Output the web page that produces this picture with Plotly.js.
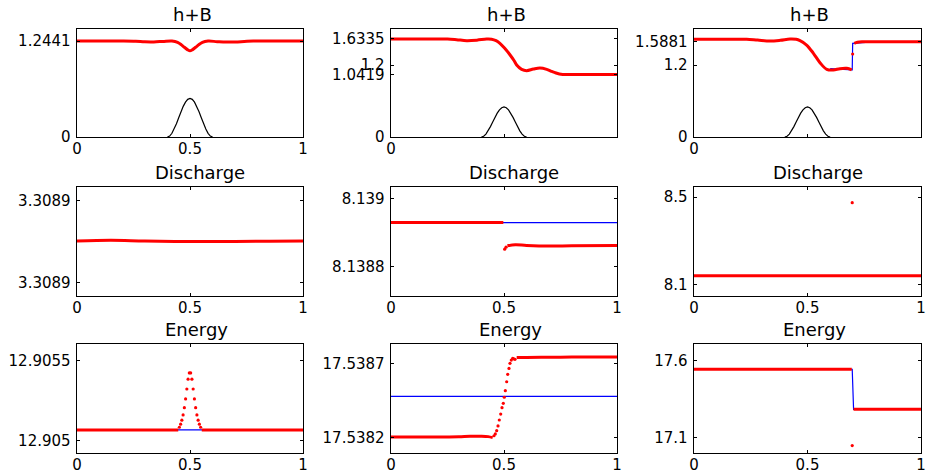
<!DOCTYPE html>
<html>
<head>
<meta charset="utf-8">
<script src="https://cdn.plot.ly/plotly-3.0.1.min.js"></script>
<style>html,body{margin:0;padding:0;background:#fff}#plot{width:929px;height:475px}</style>
</head>
<body>
<div id="plot"></div>
<script>
// ---------------- data ----------------
const titles = ["h+B", "h+B", "h+B", "Discharge", "Discharge", "Discharge", "Energy", "Energy", "Energy"];

// bottom topography (shared by the three h+B panels)
const xB = [0.4, 0.41, 0.42, 0.43, 0.44, 0.45, 0.46, 0.47, 0.48, 0.49, 0.5, 0.51, 0.52, 0.53, 0.54, 0.55, 0.56, 0.57, 0.58, 0.59, 0.6];
const B  = [0, 0.012, 0.048, 0.103, 0.173, 0.25, 0.327, 0.397, 0.452, 0.488, 0.5, 0.488, 0.452, 0.397, 0.327, 0.25, 0.173, 0.103, 0.048, 0.012, 0];

// h+B, column 1
const x_hb1 = [0, 0.1, 0.2, 0.26, 0.3, 0.34, 0.38, 0.42, 0.445, 0.46, 0.475, 0.49, 0.5, 0.51, 0.525, 0.54, 0.555, 0.58, 0.62, 0.66, 0.7, 0.74, 0.78, 0.85, 1];
const hb1   = [1.2441, 1.2441, 1.2441, 1.241, 1.234, 1.233, 1.239, 1.245, 1.228, 1.198, 1.163, 1.13, 1.118, 1.13, 1.163, 1.198, 1.228, 1.243, 1.236, 1.231, 1.232, 1.238, 1.2441, 1.2441, 1.2441];

// h+B, column 2
const x_hb2 = [0, 0.1, 0.2, 0.25, 0.29, 0.335, 0.38, 0.423, 0.445, 0.465, 0.482, 0.505, 0.527, 0.545, 0.556, 0.578, 0.6, 0.63, 0.659, 0.689, 0.71, 0.726, 0.745, 0.76, 0.8, 0.9, 1];
const hb2   = [1.6335, 1.6335, 1.6335, 1.633, 1.622, 1.606, 1.614, 1.633, 1.63, 1.605, 1.561, 1.47, 1.367, 1.27, 1.2, 1.128, 1.106, 1.133, 1.15, 1.128, 1.095, 1.072, 1.05, 1.0419, 1.0419, 1.0419, 1.0419];

// h+B, column 3 (left of shock, shock cell, right of shock, reference)
const x_hb3L = [0, 0.1, 0.2, 0.232, 0.28, 0.335, 0.38, 0.423, 0.45, 0.467, 0.496, 0.526, 0.555, 0.585, 0.614, 0.643, 0.673, 0.695];
const hb3L   = [1.63, 1.63, 1.63, 1.628, 1.615, 1.6, 1.612, 1.633, 1.628, 1.605, 1.533, 1.395, 1.239, 1.128, 1.117, 1.139, 1.144, 1.117];
const x_hb3D = [0.699];
const hb3D   = [1.383];
const x_hb3R = [0.706, 0.72, 0.74, 0.8, 0.9, 1];
const hb3R   = [1.561, 1.578, 1.586, 1.5881, 1.5881, 1.5881];
const x_hb3ref = [0.6, 0.697, 0.699, 0.8];
const hb3ref   = [1.14, 1.117, 1.561, 1.5881];

// Discharge, column 1
const x_q1 = [0, 0.15, 0.3, 0.5, 0.7, 0.85, 1];
const q1   = [3.3089005, 3.3089012, 3.3089005, 3.3089, 3.3089, 3.3089003, 3.3089005];

// Discharge, column 2
const x_q2L = [0, 0.497];
const q2L   = [8.138929, 8.138929];
const x_q2D = [0.503, 0.509];
const q2D   = [8.138851, 8.138857];
const x_q2R = [0.515, 0.55, 0.6, 0.7, 0.8, 1];
const q2R   = [8.138861, 8.138864, 8.138862, 8.13886, 8.138861, 8.138862];
const x_q2ref = [0, 1];
const q2ref   = [8.138929, 8.138929];

// Discharge, column 3
const x_q3 = [0, 1];
const q3   = [8.1389, 8.1389];
const x_q3D = [0.697];
const q3D   = [8.475];

// Energy, column 1
const x_e1L = [0, 0.2, 0.4, 0.448];
const e1L   = [12.905067, 12.905067, 12.905067, 12.905067];
const x_e1D = [0.453, 0.4585, 0.464, 0.4695, 0.475, 0.4805, 0.486, 0.4915, 0.497, 0.503, 0.5085, 0.514, 0.5195, 0.525, 0.5305, 0.536, 0.5415, 0.547];
const e1D   = [12.905084, 12.905103, 12.905128, 12.905161, 12.905206, 12.905261, 12.905323, 12.905384, 12.905423, 12.905423, 12.905384, 12.905323, 12.905261, 12.905206, 12.905161, 12.905128, 12.905103, 12.905084];
const x_e1R = [0.552, 0.7, 1];
const e1R   = [12.905067, 12.905067, 12.905067];
const x_e1ref = [0, 1];
const e1ref   = [12.905067, 12.905067];

// Energy, column 2
const x_e2L = [0, 0.1, 0.2, 0.3, 0.35, 0.4, 0.43, 0.45];
const e2L   = [17.538205, 17.538205, 17.538205, 17.538207, 17.53821, 17.53821, 17.538207, 17.5382];
const x_e2D = [0.4558, 0.4615, 0.4677, 0.4735, 0.4792, 0.4854, 0.4912, 0.4969, 0.5013, 0.5058, 0.5119, 0.5164, 0.5221, 0.5265, 0.5323, 0.5385, 0.5435, 0.5487];
const e2D   = [17.538213, 17.538225, 17.538247, 17.538279, 17.538319, 17.538359, 17.538402, 17.538431, 17.538472, 17.538516, 17.538576, 17.538626, 17.538666, 17.5387, 17.538722, 17.538734, 17.53873, 17.538727];
const x_e2R = [0.556, 0.6, 0.7, 0.8, 0.9, 1];
const e2R   = [17.53874, 17.53874, 17.538741, 17.538742, 17.538742, 17.538743];
const x_e2ref = [0, 1];
const e2ref   = [17.538478, 17.538478];

// Energy, column 3
const x_e3L = [0, 0.695];
const e3L   = [17.544, 17.544];
const x_e3D = [0.697];
const e3D   = [17.048];
const x_e3R = [0.703, 1];
const e3R   = [17.284, 17.284];
const x_e3ref = [0, 0.697, 0.703, 1];
const e3ref   = [17.544, 17.544, 17.284, 17.284];

// axis ticks / ranges
const yTickVals = [[0, 1.2441], [0, 1.0419, 1.2, 1.6335], [0, 1.2, 1.5881],
                   [3.30886, 3.30894], [8.1388, 8.139], [8.1, 8.5],
                   [12.905, 12.9055], [17.5382, 17.5387], [17.1, 17.6]];
const yTickText = [["0", "1.2441"], ["0", "1.0419", "1.2", "1.6335"], ["0", "1.2", "1.5881"],
                   ["3.3089", "3.3089"], ["8.1388", "8.139"], ["8.1", "8.5"],
                   ["12.905", "12.9055"], ["17.5382", "17.5387"], ["17.1", "17.6"]];
const yRanges = [[0, 1.4], [0, 1.8], [0, 1.8],
                 [3.308847, 3.308953], [8.138714, 8.139033], [8.046, 8.547],
                 [12.904923, 12.905604], [17.538097, 17.53883], [17.0, 17.708]];
const xTickVals = [0, 0.5, 1];
const xTickFull = ["0", "0.5", "1"];
const xTickZero = ["0", "", ""];

// ---------------- layout ----------------
const W = 929, H = 475;
const colPx = [[77, 303], [391, 617], [694, 921]];
const rowPx = [[29, 137], [187, 296], [344, 453]];
const titleShift = [2, 10, 6.5];
const FONT = "DejaVu Sans";
const RED = "#ff0000", BLUE = "#0000ff";

const layout = {
  width: W, height: H,
  margin: {l: 0, r: 0, t: 0, b: 0},
  paper_bgcolor: "#fff", plot_bgcolor: "#fff",
  showlegend: false,
  font: {family: FONT, size: 15, color: "#000"},
  annotations: []
};

for (let k = 0; k < 9; k++) {
  const r = Math.floor(k / 3), c = k % 3;
  const sx = k === 0 ? "" : String(k + 1);
  const axCommon = {
    showline: true, linecolor: "#000", linewidth: 1.4, mirror: "ticks",
    ticks: "inside", ticklen: 3, tickwidth: 1, tickcolor: "#000",
    showgrid: false, zeroline: false, fixedrange: true,
    tickfont: {family: FONT, size: 15, color: "#000"}
  };
  layout["xaxis" + sx] = Object.assign({}, axCommon, {
    domain: [colPx[c][0] / W, colPx[c][1] / W],
    anchor: "y" + sx, range: [0, 1],
    tickmode: "array", tickvals: xTickVals,
    ticktext: (r === 0 && c > 0) ? xTickZero : xTickFull,
    ticklabelstandoff: -2
  });
  layout["yaxis" + sx] = Object.assign({}, axCommon, {
    domain: [1 - rowPx[r][1] / H, 1 - rowPx[r][0] / H],
    anchor: "x" + sx, range: yRanges[k],
    tickmode: "array", tickvals: yTickVals[k], ticktext: yTickText[k],
    ticklabelstandoff: 2
  });
  layout.annotations.push({
    text: titles[k], showarrow: false,
    xref: "paper", yref: "paper",
    x: (colPx[c][0] + colPx[c][1]) / 2 / W,
    y: 1 - rowPx[r][0] / H,
    xanchor: "center", yanchor: "bottom", yshift: 2, xshift: titleShift[r],
    font: {family: FONT, size: 18, color: "#000"}
  });
}

// ---------------- traces ----------------
const traces = [];
function ax(k) { return k === 0 ? ["x", "y"] : ["x" + (k + 1), "y" + (k + 1)]; }
function line(k, x, y, color, width, shape) {
  const a = ax(k);
  traces.push({type: "scatter", mode: "lines", x: x, y: y, xaxis: a[0], yaxis: a[1],
    line: {color: color, width: width, shape: shape || "linear"}, hoverinfo: "skip"});
}
function dots(k, x, y) {
  const a = ax(k);
  traces.push({type: "scatter", mode: "markers", x: x, y: y, xaxis: a[0], yaxis: a[1],
    marker: {color: RED, size: 3.2, line: {width: 0}}, hoverinfo: "skip"});
}

// row 1: h+B
line(0, xB, B, "#000", 1.2);
line(0, x_hb1, hb1, RED, 3, "spline");
line(1, xB, B, "#000", 1.2);
line(1, x_hb2, hb2, RED, 3, "spline");
line(2, xB, B, "#000", 1.2);
line(2, x_hb3ref, hb3ref, BLUE, 1.2);
line(2, x_hb3L, hb3L, RED, 3, "spline");
line(2, x_hb3R, hb3R, RED, 3, "spline");
dots(2, x_hb3D, hb3D);

// row 2: Discharge
line(3, x_q1, q1, RED, 3, "spline");
line(4, x_q2ref, q2ref, BLUE, 1.2);
line(4, x_q2L, q2L, RED, 3);
dots(4, x_q2D, q2D);
line(4, x_q2R, q2R, RED, 3, "spline");
line(5, x_q3, q3, RED, 3);
dots(5, x_q3D, q3D);

// row 3: Energy
line(6, x_e1ref, e1ref, BLUE, 1.2);
line(6, x_e1L, e1L, RED, 3);
dots(6, x_e1D, e1D);
line(6, x_e1R, e1R, RED, 3);
line(7, x_e2ref, e2ref, BLUE, 1.2);
line(7, x_e2L, e2L, RED, 3, "spline");
dots(7, x_e2D, e2D);
line(7, x_e2R, e2R, RED, 3, "spline");
line(8, x_e3ref, e3ref, BLUE, 1.2);
line(8, x_e3L, e3L, RED, 3);
dots(8, x_e3D, e3D);
line(8, x_e3R, e3R, RED, 3);

Plotly.newPlot("plot", traces, layout, {staticPlot: true, displayModeBar: false});
</script>
</body>
</html>
